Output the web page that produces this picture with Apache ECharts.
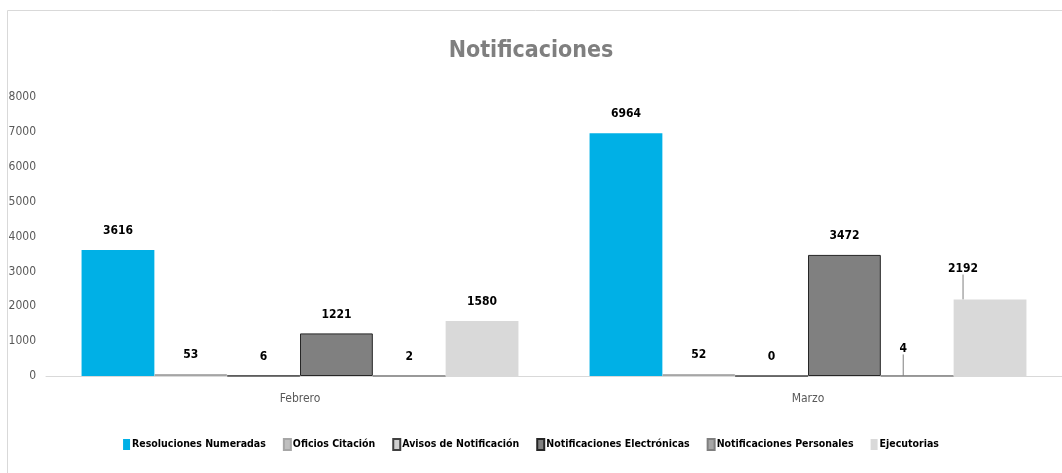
<!DOCTYPE html>
<html>
<head>
<meta charset="utf-8">
<script src="https://cdn.jsdelivr.net/npm/echarts@6/dist/echarts.min.js"></script>
<style>
    html, body { margin: 0; padding: 0; background: #fff; }
    #chart { width: 1062px; height: 473px; }
</style>
</head>
<body>
<div id="chart"></div>
<script>
// datos del grafico
var meses = ['Febrero', 'Marzo'];
var resoluciones = [3616, 6964];
var oficios = [53, 52];
var avisos = [6, 0];
var electronicas = [1221, 3472];
var personales = [2, 4];
var ejecutorias = [1580, 2192];
var ticksY = [0, 8000, 1000];

var fuente = '"DejaVu Sans Condensed", "Liberation Sans Narrow", sans-serif';

var chart = echarts.init(document.getElementById('chart'));

function serie(nombre, datos, color, borde, ancho) {
    return {
        name: nombre,
        type: 'bar',
        barGap: 0,
        barCategoryGap: '14%',
        data: datos,
        itemStyle: { color: color, borderColor: borde, borderWidth: ancho },
        label: {
            show: true,
            position: 'top',
            distance: 13,
            color: '#000',
            fontFamily: fuente,
            fontWeight: 'bold',
            fontSize: 12
        }
    };
}

// solo el dato de Marzo lleva linea guia
function conGuia(datos) {
    return datos.map(function (v, i) {
        return i === 1 ? { value: v, labelLine: { show: true } } : v;
    });
}

var series = [
    serie('Resoluciones Numeradas', resoluciones, '#00B0E6', '#00B0E6', 0),
    serie('Oficios Citación', oficios, '#BFBFBF', '#A6A6A6', 1),
    serie('Avisos de Notificación', avisos, '#D0D0D0', '#404040', 1),
    serie('Notificaciones Electrónicas', electronicas, '#808080', '#262626', 1),
    serie('Notificaciones Personales', conGuia(personales), '#A6A6A6', '#7F7F7F', 1),
    serie('Ejecutorias', conGuia(ejecutorias), '#D9D9D9', '#D9D9D9', 0)
];

series[4].labelLine = { show: false, lineStyle: { color: '#7F7F7F', width: 1 } };
series[4].labelLayout = function (p) {
    if (p.dataIndex === 1) return { dx: -14, dy: -8 };
    return {};
};
series[5].labelLine = { show: false, lineStyle: { color: '#7F7F7F', width: 1 } };
series[5].labelLayout = function (p) {
    if (p.dataIndex === 1) return { dx: -27, dy: -12 };
    return {};
};

chart.setOption({
    animation: false,
    graphic: [{
        type: 'rect',
        shape: { x: 7.5, y: 10.5, width: 1100, height: 500 },
        style: { fill: 'none', stroke: '#D9D9D9', lineWidth: 1 },
        silent: true
    }],
    title: {
        text: 'Notificaciones',
        left: 'center',
        top: 35,
        textStyle: {
            color: '#7F7F7F',
            fontFamily: fuente,
            fontWeight: 'bold',
            fontSize: 23
        }
    },
    legend: {
        bottom: 17,
        left: 'center',
        itemWidth: 7,
        itemHeight: 11,
        itemGap: 17,
        icon: 'rect',
        textStyle: {
            color: '#000',
            fontFamily: fuente,
            fontWeight: 'bold',
            fontSize: 10.5,
            padding: [0, 0, 0, -3]
        }
    },
    grid: {
        left: 46,
        right: 0,
        top: 97,
        bottom: 97,
        containLabel: false
    },
    xAxis: {
        type: 'category',
        data: meses,
        axisTick: { show: false },
        axisLine: { lineStyle: { color: '#D9D9D9', width: 1 } },
        axisLabel: {
            color: '#595959',
            fontFamily: fuente,
            fontSize: 12,
            margin: 17
        }
    },
    yAxis: {
        type: 'value',
        min: ticksY[0],
        max: ticksY[1],
        interval: ticksY[2],
        splitLine: { show: false },
        axisLine: { show: false },
        axisTick: { show: false },
        axisLabel: {
            color: '#595959',
            fontFamily: fuente,
            fontSize: 12,
            margin: 10,
            formatter: function (v) { return String(v); }
        }
    },
    series: series
});
</script>
</body>
</html>
